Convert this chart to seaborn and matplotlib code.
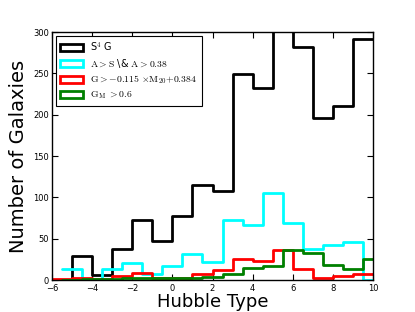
import matplotlib
matplotlib.use("Agg")
import matplotlib.pyplot as plt
from matplotlib.patches import Patch
import numpy as np
import pandas as pd
import seaborn as sns

# ---- data ----
# black: S4G, integer bins
black_edges = [-6, -5, -4, -3, -2, -1, 0, 1, 2, 3, 4, 5, 6, 7, 8, 9, 10]
black_counts = [0, 29, 6, 38, 73, 47, 78, 115, 108, 249, 232, 330, 282, 196, 210, 291]
# red: G > -0.115 M20 + 0.384, integer bins
red_edges = [-6, -5, -4, -3, -2, -1, 0, 1, 2, 3, 4, 5, 6, 7, 8, 9, 10]
red_counts = [1, 3, 1, 5, 8, 2, 3, 7, 12, 26, 23, 36, 13, 2, 5, 7]
# cyan: A > S & A > 0.38, half-integer bins
cyan_edges = [-5.5, -4.5, -3.5, -2.5, -1.5, -0.5, 0.5, 1.5, 2.5, 3.5, 4.5, 5.5,
              6.5, 7.5, 8.5, 9.5, 10.5]
cyan_counts = [13, 0, 13, 20, 7, 17, 32, 22, 73, 66, 105, 69, 37, 42, 46, 0]
# green: G_M > 0.6, half-integer bins
green_edges = [-5.5, -4.5, -3.5, -2.5, -1.5, -0.5, 0.5, 1.5, 2.5, 3.5, 4.5, 5.5,
               6.5, 7.5, 8.5, 9.5, 10.5]
green_counts = [0, 1, 1, 3, 3, 2, 2, 4, 7, 15, 17, 36, 33, 18, 13, 25]

labels = [r"S$^4$ G",
          r"$\mathrm{A >S}$ \& $\mathrm{A >0.38}$",
          r"$\mathrm{G >{-0.115}}\ {\times}\mathrm{M_{20} {+0.384}}$",
          r"$\mathrm{G_M\ >0.6}$"]
colors = ["black", "cyan", "red", "green"]

xticks = [-6, -4, -2, 0, 2, 4, 6, 8, 10]
yticks = [0, 50, 100, 150, 200, 250, 300]

# ---- style ----
sns.set_style("ticks", {"xtick.direction": "in", "ytick.direction": "in",
                        "axes.edgecolor": "black", "text.color": "black",
                        "axes.labelcolor": "black", "xtick.color": "black",
                        "ytick.color": "black"})
plt.rcParams["mathtext.fontset"] = "cm"
plt.rcParams["font.family"] = ["DejaVu Sans"]

fig = plt.figure(figsize=(4.15, 3.12), dpi=100)
ax = fig.add_axes([52 / 415, 32 / 312, 321 / 415, 248 / 312])

series = [(black_edges, black_counts), (cyan_edges, cyan_counts),
          (red_edges, red_counts), (green_edges, green_counts)]
for (edges, counts), col in zip(series, colors):
    e = np.asarray(edges, dtype=float)
    df = pd.DataFrame({"x": (e[:-1] + e[1:]) / 2, "w": np.asarray(counts, dtype=float)})
    sns.histplot(data=df, x="x", weights="w", bins=list(e), element="step",
                 fill=False, color=col, linewidth=2, ax=ax)

ax.set_xlim(-6, 10)
ax.set_ylim(0, 300)
ax.set_xticks(xticks)
ax.set_yticks(yticks)
ax.tick_params(top=True, right=True, labelsize=6, length=4, width=0.8, pad=2,
               colors="black")
ax.tick_params(axis="x", pad=3)
for s in ax.spines.values():
    s.set_linewidth(1.0)
    s.set_color("black")

ax.set_xlabel("Hubble Type", fontsize=13, labelpad=0, color="black")
ax.set_ylabel("Number of Galaxies", fontsize=14, labelpad=4, color="black")

handles = [Patch(facecolor="none", edgecolor=c, linewidth=2) for c in colors]
leg = ax.legend(handles, labels, loc="upper left", fontsize=7, frameon=True,
                fancybox=False, framealpha=1, edgecolor="black",
                handlelength=2.3, handleheight=0.75, labelspacing=0.35,
                borderaxespad=0.4, borderpad=0.45, handletextpad=0.8)
leg.get_frame().set_linewidth(0.8)

fig.savefig("out.png", dpi=100)
